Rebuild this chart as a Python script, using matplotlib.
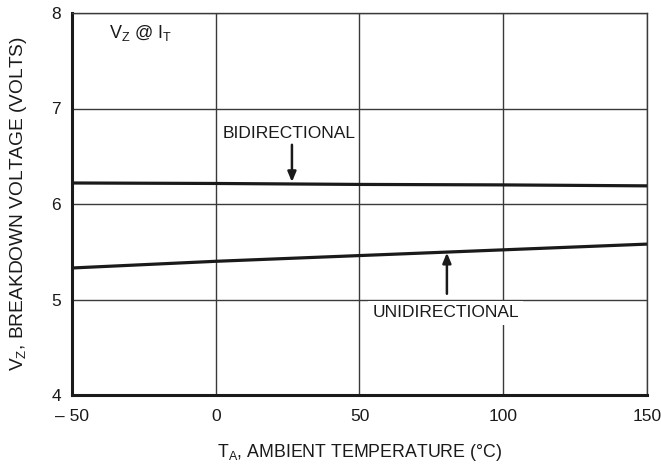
import matplotlib
matplotlib.use("Agg")
import matplotlib.pyplot as plt

FONT = "Liberation Sans"
plt.rcParams["font.family"] = [FONT, "DejaVu Sans"]
plt.rcParams["mathtext.fontset"] = "custom"
plt.rcParams["mathtext.rm"] = FONT
plt.rcParams["mathtext.default"] = "rm"

INK, GRID = "#1a1a1a", "#3a3a3a"

# data
temp = [-50, 0, 50, 100, 150]
v_bidirectional = [6.22, 6.215, 6.205, 6.20, 6.19]
v_unidirectional = [5.33, 5.40, 5.46, 5.52, 5.58]
xticks = [-50, 0, 50, 100, 150]
xticklabels = ["\u2013 50", "0", "50", "100", "150"]
yticks = [4, 5, 6, 7, 8]

fig = plt.figure(figsize=(6.61, 4.66), dpi=100)
ax = fig.add_axes([72 / 661, 1 - 395 / 466, 575 / 661, 382 / 466])

ax.plot(temp, v_bidirectional, color=INK, lw=2.3, solid_capstyle="butt", zorder=3)
ax.plot(temp, v_unidirectional, color=INK, lw=2.3, solid_capstyle="butt", zorder=3)

ax.set_xlim(-50, 150)
ax.set_ylim(4, 8)
ax.set_xticks(xticks, xticklabels)
ax.set_yticks(yticks)
ax.grid(True, color=GRID, lw=1.0, zorder=1)
ax.tick_params(length=0, labelsize=12.5, colors=INK)
ax.tick_params(axis="x", pad=10)
ax.tick_params(axis="y", pad=8)
for side in ("top", "right"):
    ax.spines[side].set_linewidth(1.0)
    ax.spines[side].set_color(GRID)
for side in ("left", "bottom"):
    ax.spines[side].set_linewidth(2.2)
    ax.spines[side].set_color(INK)

ax.set_xlabel(r"T$_\mathrm{A}$, AMBIENT TEMPERATURE (°C)", fontsize=12.8, color=INK, labelpad=13)
ax.set_ylabel(r"V$_\mathrm{Z}$, BREAKDOWN VOLTAGE (VOLTS)", fontsize=13.8, color=INK, labelpad=16)

ax.text(-37, 7.79, r"V$_\mathrm{Z}$ @ I$_\mathrm{T}$", fontsize=13, color=INK,
        ha="left", va="center")

# annotations
ax.annotate("", xy=(26.5, 6.23), xytext=(26.5, 6.62),
            arrowprops=dict(arrowstyle="-|>,head_length=0.6,head_width=0.25",
                            color=INK, lw=1.8, shrinkA=0, shrinkB=0), zorder=4)
ax.text(2.4, 6.74, "BIDIRECTIONAL", fontsize=12.5, color=INK, ha="left", va="center",
        bbox=dict(facecolor="white", edgecolor="none", pad=1), zorder=4)

ax.annotate("", xy=(80.4, 5.49), xytext=(80.4, 5.06),
            arrowprops=dict(arrowstyle="-|>,head_length=0.6,head_width=0.25",
                            color=INK, lw=1.8, shrinkA=0, shrinkB=0), zorder=4)
ax.text(54.5, 4.86, "UNIDIRECTIONAL", fontsize=12.5, color=INK, ha="left", va="center",
        bbox=dict(facecolor="white", edgecolor="none", pad=3), zorder=4)

fig.savefig("out.png", dpi=100, facecolor="white")
